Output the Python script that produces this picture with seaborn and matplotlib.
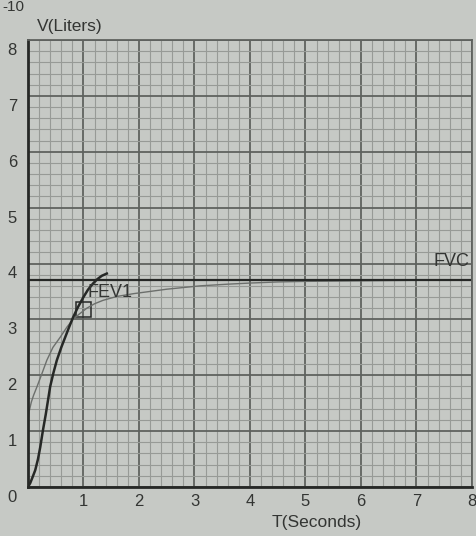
import numpy as np
import pandas as pd
import matplotlib
matplotlib.use("Agg")
import matplotlib.pyplot as plt
from matplotlib.transforms import ScaledTranslation
from matplotlib.ticker import MultipleLocator
import seaborn as sns

# Measured expiration curve (time in s, volume in L)
measured_t = [0.0, 0.04, 0.08, 0.13, 0.18, 0.22, 0.27, 0.32, 0.36, 0.4, 0.46, 0.52,
              0.6, 0.67, 0.74, 0.81, 0.9, 1.0, 1.08, 1.17, 1.25, 1.33, 1.42]
measured_v = [0.0, 0.07, 0.17, 0.3, 0.5, 0.71, 1.02, 1.3, 1.55, 1.8, 2.05, 2.27,
              2.5, 2.68, 2.86, 3.03, 3.22, 3.4, 3.53, 3.64, 3.72, 3.78, 3.82]

# Predicted curve
predicted_t = [0.0, 0.02, 0.06, 0.1, 0.16, 0.24, 0.34, 0.45, 0.58, 0.7, 0.81, 0.93, 1.06,
               1.2, 1.35, 1.6, 1.9, 2.2, 2.5, 3.1, 3.6, 4.0, 4.5, 5.0, 6.0, 7.0, 8.0]
predicted_v = [1.2, 1.35, 1.52, 1.64, 1.79, 2.0, 2.27, 2.5, 2.68, 2.86, 3.0, 3.1, 3.2,
               3.28, 3.34, 3.41, 3.46, 3.5, 3.54, 3.6, 3.63, 3.65, 3.67, 3.68, 3.69, 3.7, 3.7]

fvc_value = 3.7
fev1_t, fev1_v = 1.0, 3.18

x_ticks = [1, 2, 3, 4, 5, 6, 7, 8]
y_ticks = [0, 1, 2, 3, 4, 5, 6, 7, 8]

paper = "#c6c9c5"
ink = "#262826"
label_col = "#333533"

plt.rcParams["font.family"] = ["Liberation Sans", "DejaVu Sans"]

fig = plt.figure(figsize=(4.77, 5.36), dpi=100, facecolor=paper)
ax = fig.add_axes([28 / 477, 1 - 487 / 536, 444 / 477, 447 / 536])
ax.set_facecolor(paper)

ax.set_xlim(0, 8)
ax.set_ylim(0, 8)
ax.xaxis.set_minor_locator(MultipleLocator(0.2))
ax.yaxis.set_minor_locator(MultipleLocator(0.2))
ax.set_xticks(x_ticks)
ax.set_yticks(y_ticks)
ax.grid(which="major", color="#5f625f", linewidth=1.3)
ax.grid(which="minor", color="#979a96", linewidth=0.8)
ax.set_axisbelow(True)
ax.tick_params(which="both", length=0)
ax.tick_params(axis="x", pad=5, labelsize=12, labelcolor=label_col)
ax.tick_params(axis="y", pad=8, labelsize=12, labelcolor=label_col)

# Shift the volume labels a little below their grid lines
for lab in ax.get_yticklabels():
    lab.set_transform(lab.get_transform() + ScaledTranslation(0, -9 / 100, fig.dpi_scale_trans))

for side in ["left", "bottom"]:
    ax.spines[side].set_color(ink)
    ax.spines[side].set_linewidth(2.0)
for side in ["top", "right"]:
    ax.spines[side].set_color("#5f625f")
    ax.spines[side].set_linewidth(1.3)

measured = pd.DataFrame({"t": measured_t, "v": measured_v})
predicted = pd.DataFrame({"t": predicted_t, "v": predicted_v})

sns.lineplot(data=predicted, x="t", y="v", ax=ax, color="#6c6f6c", linewidth=1.0, sort=False)
sns.lineplot(data=measured, x="t", y="v", ax=ax, color=ink, linewidth=1.8, sort=False)

ax.axhline(fvc_value, color=ink, linewidth=1.6)
ax.add_patch(plt.Rectangle((fev1_t - 0.13, fev1_v - 0.13), 0.27, 0.26,
                           fill=False, edgecolor=ink, linewidth=1.1))
ax.text(1.08, 3.4, "FEV1", fontsize=13, color=label_col, ha="left", va="baseline")
ax.text(7.95, 3.95, "FVC", fontsize=13, color=label_col, ha="right", va="baseline")

ax.set_xlabel("")
ax.set_ylabel("")
fig.text(37 / 477, 1 - 27 / 536, "V(Liters)", fontsize=12.5, color=label_col, ha="left", va="center")
fig.text(317 / 477, 1 - 522 / 536, "T(Seconds)", fontsize=12.5, color=label_col, ha="center", va="center")
fig.text(2 / 477, 1 - 7 / 536, "-10", fontsize=11, color=label_col, ha="left", va="center")

fig.savefig("out.png", dpi=100, facecolor=paper)
